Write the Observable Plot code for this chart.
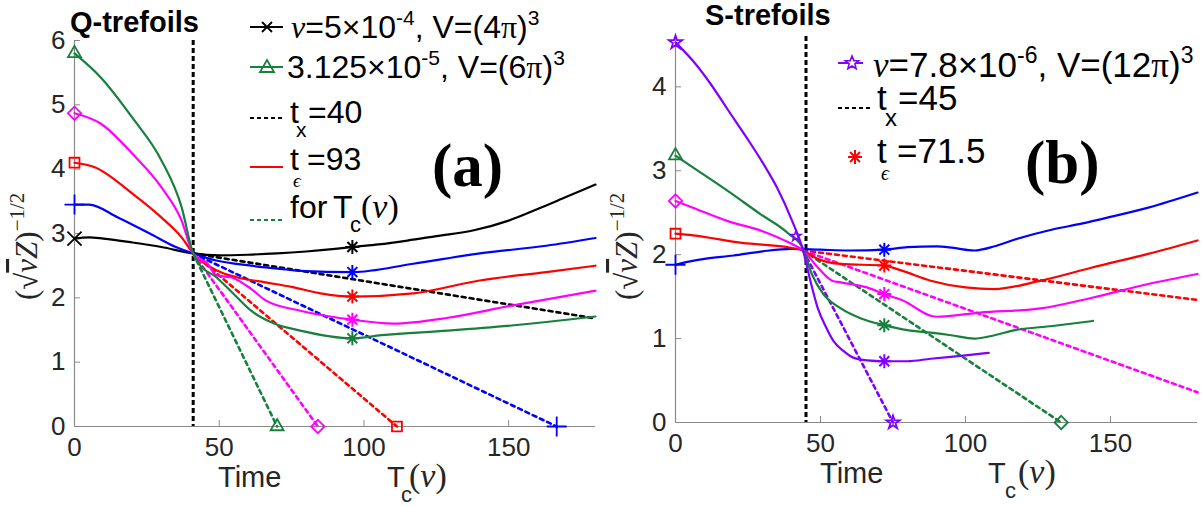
<!DOCTYPE html>
<html><head><meta charset="utf-8">
<script src="https://cdn.jsdelivr.net/npm/d3@7"></script>
<script src="https://cdn.jsdelivr.net/npm/@observablehq/plot@0.6"></script>
<style>
html,body{margin:0;padding:0;background:#fff;}
#wrap{position:relative;width:1204px;height:506px;overflow:hidden;font-family:"Liberation Sans",Arial,sans-serif;}
#wrap > svg{position:absolute;top:0;}
</style></head><body><div id="wrap"></div>
<script>
// ---------- Panel (a): Q-trefoils ----------
const qXTicks = [0, 50, 100, 150];
const qYTicks = [0, 1, 2, 3, 4, 5, 6];
const qTx = [41];
const qBlackT = [0,5,10,20,30,41,50,60,70,80,90,96,105,115,125,138,150,160,170,180];
const qBlackY = [2.92,2.94,2.92,2.86,2.79,2.69,2.66,2.67,2.69,2.72,2.76,2.79,2.83,2.89,2.96,3.05,3.2,3.38,3.57,3.76];
const qBlueT = [0,5,15,26,35,41,49,61,71,78,96,117,140,163,180];
const qBlueY = [3.45,3.45,3.25,3.0,2.79,2.69,2.58,2.5,2.45,2.42,2.40,2.53,2.69,2.81,2.93];
const qRedT = [0,7,20,30,37,41,49,56,66,75,85,96,117,140,163,180];
const qRedY = [4.1,4.03,3.62,3.25,2.94,2.69,2.43,2.32,2.24,2.17,2.07,2.02,2.07,2.27,2.40,2.5];
const qMagT = [0,9,20,30,37,41,46,49,54,61,66,78,96,110,129,151,180];
const qMagY = [4.87,4.71,4.24,3.72,3.2,2.69,2.53,2.35,2.32,2.14,1.96,1.8,1.66,1.6,1.69,1.88,2.11];
const qGreenT = [0,9,20,30,37,41,43,49,55,61,69,78,96,106,129,151,180];
const qGreenY = [5.8,5.43,4.8,4.14,3.41,2.69,2.53,2.32,2.06,1.8,1.6,1.49,1.37,1.42,1.49,1.57,1.71];
const qStarSeries = ["black","blue","red","magenta","green"];
const qStarT = [96,96,96,96,96];
const qStarY = [2.79,2.40,2.02,1.66,1.37];
const qTcStart = [41, 2.69];
const qTcSeries = ["black","blue","red","magenta","green"];
const qTcEndT = [180,166.6,111.4,84.1,70];
const qTcEndY = [1.68,0,0,0,0];

// ---------- Panel (b): S-trefoils ----------
const sXTicks = [0, 50, 100, 150];
const sYTicks = [0, 1, 2, 3, 4];
const sTx = [45];
const sBlueT = [0,5,10,20,30,40,50,60,72,80,90,96,103,110,117,130,140,150,163,180];
const sBlueY = [1.88,1.92,1.95,1.99,2.04,2.07,2.06,2.05,2.06,2.09,2.10,2.08,2.05,2.1,2.18,2.3,2.37,2.45,2.56,2.74];
const sRedT = [0,6,23,40,44,49,57,72,78,88,100,110,126,144,163,180];
const sRedY = [2.25,2.23,2.14,2.08,2.05,1.95,1.89,1.87,1.81,1.69,1.61,1.59,1.69,1.85,2.01,2.17];
const sMagT = [0,6,18,30,35,40,44,49,54,57,66,72,78,90,105,126,144,163,180];
const sMagY = [2.64,2.56,2.4,2.28,2.21,2.13,2.05,1.85,1.69,1.67,1.61,1.53,1.46,1.26,1.31,1.36,1.49,1.65,1.77];
const sGreenT = [0,6,18,29,39,44,47,51,57,64,72,80,88,95,103,110,117,130,144];
const sGreenY = [3.18,3.04,2.76,2.49,2.25,2.07,1.77,1.53,1.36,1.24,1.16,1.1,1.07,1.04,1.0,1.04,1.1,1.15,1.21];
const sPurpleT = [0,6,12,18,25,30,35,40,44,46.5,49,52,54.5,58,61.5,66,72,80,88,100,108];
const sPurpleY = [4.53,4.31,4.04,3.73,3.37,3.1,2.8,2.42,2.05,1.69,1.37,1.13,0.97,0.85,0.77,0.74,0.73,0.73,0.76,0.80,0.83];
const sPurpleExtraT = [41.5];
const sPurpleExtraY = [2.22];
const sStarSeries = ["blue","red","magenta","green","purple"];
const sStarT = [72,72,72,72,72];
const sStarY = [2.06,1.87,1.53,1.16,0.73];
const sTcStart = [44, 2.05];
const sTcSeries = ["red","magenta","green","purple"];
const sTcEndT = [180,180,133,75];
const sTcEndY = [1.46,0.36,0,0];

// ---------- styles ----------
const colors = {black:"#000000", blue:"#0000ff", red:"#ff0000", magenta:"#ff00ff", green:"#16803c", purple:"#7f00ff"};
const startSym = {black:"times", blue:"plus", red:"square", magenta:"diamond2", green:"triangle2", purple:"star"};
const startR = {times:6.5, plus:6.5, square:5.6, diamond2:6, triangle2:6.2, star:4.2};
const asterisk = {draw(ctx, size){ const r = Math.sqrt(size/Math.PI), d = r*Math.SQRT1_2;
  ctx.moveTo(-r,0);ctx.lineTo(r,0);ctx.moveTo(0,-r);ctx.lineTo(0,r);
  ctx.moveTo(-d,-d);ctx.lineTo(d,d);ctx.moveTo(-d,d);ctx.lineTo(d,-d);}};
const rows = (T, Y) => T.map((t, i) => ({t, y: Y[i]}));
const fmt = d3.format("d");

function panel(o) {
  const axisGray = "#8a8a8a";
  const innerW = o.width - o.marginLeft - o.marginRight;
  const innerH = 506 - o.marginTop - o.marginBottom;
  const marks = [
    Plot.ruleY([0], {stroke: axisGray, strokeWidth: 1.2}),
    Plot.ruleX([0], {stroke: axisGray, strokeWidth: 1.2}),
    Plot.tickX(o.xTicks, {x: d => d, stroke: axisGray, insetTop: innerH - 6}),
    Plot.tickY(o.yTicks, {y: d => d, stroke: axisGray, insetRight: innerW - 6}),
    Plot.axisX({ticks: o.xTicks, tickSize: 0, tickPadding: 11, tickFormat: fmt, fill: "#262626", label: null, fontSize: 26}),
    Plot.axisY({ticks: o.yTicks, tickSize: 0, tickPadding: 9, tickFormat: fmt, fill: "#262626", label: null, fontSize: 26}),
    Plot.ruleX(o.tx, {stroke: "#000", strokeWidth: 3, strokeDasharray: "5,3"})
  ];
  o.tcSeries.forEach((s, i) => {
    marks.push(Plot.line([{t: o.tcStart[0], y: o.tcStart[1]}, {t: o.tcEndT[i], y: o.tcEndY[i]}],
      {x: "t", y: "y", stroke: colors[s], strokeWidth: 2.6, strokeDasharray: "4,4"}));
  });
  o.series.forEach(([s, T, Y]) => {
    marks.push(Plot.line(rows(T, Y), {x: "t", y: "y", stroke: colors[s], strokeWidth: 2.2, curve: "monotone-x"}));
    const sym = startSym[s];
    marks.push(Plot.dot(rows(T, Y).slice(0, 1), {x: "t", y: "y", symbol: sym, r: startR[sym], stroke: colors[s], fill: "none", strokeWidth: 1.8}));
  });
  o.tcSeries.forEach((s, i) => {
    if (o.tcEndY[i] === 0) {
      const sym = o.tcSym[s];
      marks.push(Plot.dot([{t: o.tcEndT[i], y: 0}], {x: "t", y: "y", symbol: sym, r: startR[sym], stroke: colors[s], fill: "none", strokeWidth: 1.8}));
    }
  });
  marks.push(Plot.dot(o.starT.map((t, i) => ({t, y: o.starY[i], c: colors[o.starSeries[i]]})),
    {x: "t", y: "y", symbol: asterisk, r: 7, stroke: "c", strokeWidth: 2}));
  if (o.extra) marks.push(...o.extra);
  return Plot.plot({
    width: o.width, height: 506,
    marginLeft: o.marginLeft, marginRight: o.marginRight, marginTop: o.marginTop, marginBottom: o.marginBottom,
    x: {domain: [0, 180]}, y: {domain: o.yDomain},
    style: {fontFamily: "Liberation Sans, Arial, sans-serif", fontSize: "26px", color: "#262626", background: "transparent", overflow: "visible"},
    marks
  });
}

const left = panel({
  width: 600, marginLeft: 74, marginRight: 5, marginTop: 40, marginBottom: 80,
  xTicks: qXTicks, yTicks: qYTicks, yDomain: [0, 6], tx: qTx,
  series: [["black", qBlackT, qBlackY], ["blue", qBlueT, qBlueY], ["red", qRedT, qRedY], ["magenta", qMagT, qMagY], ["green", qGreenT, qGreenY]],
  starT: qStarT, starY: qStarY, starSeries: qStarSeries,
  tcStart: qTcStart, tcSeries: qTcSeries, tcEndT: qTcEndT, tcEndY: qTcEndY,
  tcSym: {blue: "plus", red: "square", magenta: "diamond2", green: "triangle2"}
});
const right = panel({
  width: 604, marginLeft: 75, marginRight: 7, marginTop: 36, marginBottom: 84,
  xTicks: sXTicks, yTicks: sYTicks, yDomain: [0, 4.6], tx: sTx,
  series: [["blue", sBlueT, sBlueY], ["red", sRedT, sRedY], ["magenta", sMagT, sMagY], ["green", sGreenT, sGreenY], ["purple", sPurpleT, sPurpleY]],
  starT: sStarT, starY: sStarY, starSeries: sStarSeries,
  tcStart: sTcStart, tcSeries: sTcSeries, tcEndT: sTcEndT, tcEndY: sTcEndY,
  tcSym: {green: "diamond2", purple: "star"},
  extra: [Plot.dot(rows(sPurpleExtraT, sPurpleExtraY), {x: "t", y: "y", symbol: "star", r: 3.2, stroke: colors.purple, fill: "none", strokeWidth: 1.5})]
});
const wrap = document.getElementById("wrap");
left.style.left = "0px"; right.style.left = "600px";
wrap.appendChild(left); wrap.appendChild(right);

// ---------- overlay text: titles, legends, axis labels ----------
const SANS = "Liberation Sans, Arial, sans-serif", SERIF = "Liberation Serif, Times New Roman, serif";
const ylab = (x) => `<text transform="translate(${x},300) rotate(-90)" font-family="${SERIF}" font-size="31" fill="#262626">(<tspan>√</tspan><tspan font-style="italic" text-decoration="overline">ν</tspan><tspan font-style="italic">Z</tspan>)<tspan font-size="21" dy="-13">−1/2</tspan></text>`;
const asteriskPath = (cx, cy, r) => { const d = r*Math.SQRT1_2; return `M${cx-r},${cy}H${cx+r}M${cx},${cy-r}V${cy+r}M${cx-d},${cy-d}L${cx+d},${cy+d}M${cx-d},${cy+d}L${cx+d},${cy-d}`; };
const starPts = (cx, cy, R, r) => { const p = []; for (let k = 0; k < 10; k++) { const a = -Math.PI/2 + k*Math.PI/5, rr = k % 2 ? r : R; p.push((cx + rr*Math.cos(a)).toFixed(1) + "," + (cy + rr*Math.sin(a)).toFixed(1)); } return p.join(" "); };
const overlay = `
<svg id="overlay" width="1204" height="506" style="position:absolute;left:0;top:0" font-family="${SANS}" fill="#000">
  <text x="70" y="32" font-size="29" font-weight="bold">Q-trefoils</text>
  <text x="705" y="25" font-size="29" font-weight="bold">S-trefoils</text>
  ${ylab(37)}
  ${ylab(637)}
  <text x="218" y="487" font-size="29" fill="#262626">Time</text>
  <text x="820" y="483" font-size="29" fill="#262626">Time</text>
  <text y="487" font-size="29" fill="#262626"><tspan x="387">T</tspan><tspan x="401" dy="15" font-size="22">c</tspan><tspan x="409" dy="-15" font-family="${SERIF}" font-size="34">(<tspan font-style="italic">ν</tspan>)</tspan></text>
  <text y="483" font-size="29" fill="#262626"><tspan x="988">T</tspan><tspan x="1005" dy="15" font-size="22">c</tspan><tspan x="1018" dy="-15" font-family="${SERIF}" font-size="34">(<tspan font-style="italic">ν</tspan>)</tspan></text>
  <text x="432" y="186" font-family="${SERIF}" font-size="61" font-weight="bold">(a)</text>
  <text x="1025" y="183" font-family="${SERIF}" font-size="61" font-weight="bold">(b)</text>

  <!-- legend (a) -->
  <line x1="250" x2="283" y1="27" y2="27" stroke="${colors.black}" stroke-width="2"/>
  <path d="M262,22L272,32M262,32L272,22" stroke="${colors.black}" stroke-width="1.8"/>
  <text x="291" y="38" font-size="32"><tspan font-family="${SERIF}" font-style="italic">ν</tspan>=5×10<tspan font-size="21" dy="-13">-4</tspan><tspan dy="13">, V=(4</tspan><tspan font-family="${SERIF}">π</tspan>)<tspan font-size="21" dy="-13">3</tspan></text>
  <line x1="250" x2="283" y1="67" y2="67" stroke="${colors.green}" stroke-width="2"/>
  <path d="M267,60L274,72L260,72Z" stroke="${colors.green}" stroke-width="1.8" fill="none"/>
  <text x="287" y="78" font-size="32">3.125×10<tspan font-size="21" dy="-13">-5</tspan><tspan dy="13">, V=(6</tspan><tspan font-family="${SERIF}">π</tspan>)<tspan font-size="21" dy="-13">3</tspan></text>
  <line x1="250" x2="283" y1="118" y2="118" stroke="#000" stroke-width="2" stroke-dasharray="4,3"/>
  <text y="123" font-size="32"><tspan x="290">t</tspan><tspan x="296" dy="14" font-size="21">x</tspan><tspan x="308" dy="-14">=40</tspan></text>
  <line x1="250" x2="283" y1="167" y2="167" stroke="${colors.red}" stroke-width="2"/>
  <text y="170" font-size="32"><tspan x="290">t</tspan><tspan x="293" dy="17" font-size="19" font-family="${SERIF}" font-style="italic">ϵ</tspan><tspan x="307" dy="-17">=93</tspan></text>
  <line x1="250" x2="283" y1="220" y2="220" stroke="${colors.green}" stroke-width="2" stroke-dasharray="4,3"/>
  <text y="218" font-size="32"><tspan x="290">for</tspan><tspan x="333">T</tspan><tspan x="350" dy="14" font-size="22">c</tspan><tspan x="361" dy="-14" font-family="${SERIF}" font-size="34">(<tspan font-style="italic">ν</tspan>)</tspan></text>

  <!-- legend (b) -->
  <line x1="838" x2="863" y1="63" y2="63" stroke="${colors.purple}" stroke-width="2"/>
  <polygon points="${starPts(852, 63, 7, 3)}" stroke="${colors.purple}" stroke-width="1.6" fill="#fff"/>
  <text x="873" y="77" font-size="35"><tspan font-family="${SERIF}" font-style="italic">ν</tspan>=7.8×10<tspan font-size="23" dy="-14">-6</tspan><tspan dy="14">, V=(12</tspan><tspan font-family="${SERIF}">π</tspan>)<tspan font-size="23" dy="-14">3</tspan></text>
  <line x1="838" x2="870" y1="108" y2="108" stroke="#000" stroke-width="2" stroke-dasharray="4,3"/>
  <text y="110" font-size="35"><tspan x="877">t</tspan><tspan x="885" dy="16" font-size="24">x</tspan><tspan x="898" dy="-16">=45</tspan></text>
  <path d="${asteriskPath(855, 157, 7)}" stroke="${colors.red}" stroke-width="2"/>
  <text y="163" font-size="35"><tspan x="877">t</tspan><tspan x="881" dy="17" font-size="20" font-family="${SERIF}" font-style="italic">ϵ</tspan><tspan x="897" dy="-17">=71.5</tspan></text>
</svg>`;
wrap.insertAdjacentHTML("beforeend", overlay);
</script>
</body></html>
